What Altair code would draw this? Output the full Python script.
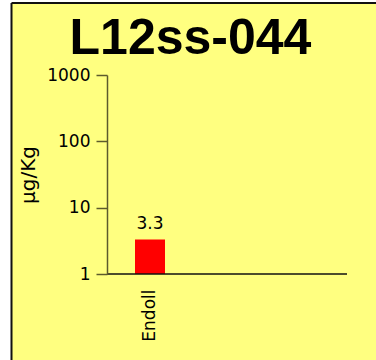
import altair as alt
import pandas as pd

# Sample result
categories = ["Endoll"]
values = [3.3]
labels = ["3.3"]

sample_id = "L12ss-044"
unit_label = "μg/Kg"
y_ticks = [1, 10, 100, 1000]

df = pd.DataFrame({"analyte": categories, "value": values, "label": labels})

PANEL = "#FFFF80"
FONT = "DejaVu Sans"

x_scale = alt.Scale(range=[28, 58], paddingInner=0, paddingOuter=0)

x_enc = alt.X(
    "analyte:N",
    scale=x_scale,
    axis=alt.Axis(
        title=None,
        labelAngle=270,
        labelFont=FONT,
        labelFontSize=17,
        labelColor="#000000",
        labelPadding=15,
        ticks=False,
        domain=False,
        zindex=1,
    ),
)
y_enc = alt.Y(
    "value:Q",
    scale=alt.Scale(type="log", domain=[1, 1000]),
    axis=alt.Axis(
        title=unit_label,
        values=y_ticks,
        format="d",
        grid=False,
        labelFont=FONT,
        labelFontSize=17,
        labelColor="#000000",
        labelPadding=6,
        tickSize=11,
        tickColor="#5c5a2c",
        tickWidth=1.5,
        domainColor="#5c5a2c",
        domainWidth=1.5,
        titleFont=FONT,
        titleFontSize=20,
        titleFontWeight="normal",
        titleColor="#000000",
        titlePadding=8,
        zindex=1,
    ),
)

bars = alt.Chart(df).mark_bar(color="#FF0000").encode(
    x=x_enc, y=y_enc, y2=alt.datum(1)
)

value_text = alt.Chart(df).mark_text(
    font=FONT, fontSize=17, color="#000000", baseline="alphabetic", dy=-11
).encode(x=alt.X("analyte:N", scale=x_scale), y="value:Q", text="label:N")

edge_df = pd.DataFrame({"k": [0]})

# Baseline of the value axis across the full plot width
baseline = alt.Chart(edge_df).mark_rule(color="#111111", strokeWidth=1.5).encode(
    y=alt.datum(1), x=alt.value(0), x2=alt.value(240)
)

# White margin outside the panel and the panel's black frame
margin_left = alt.Chart(edge_df).mark_rect(color="white").encode(
    x=alt.value(-107), x2=alt.value(-95.5), y=alt.value(-75), y2=alt.value(285)
)
margin_top = alt.Chart(edge_df).mark_rect(color="white").encode(
    x=alt.value(-107), x2=alt.value(269), y=alt.value(-75), y2=alt.value(-72)
)
frame_left = alt.Chart(edge_df).mark_rule(color="#111111", strokeWidth=2).encode(
    x=alt.value(-95.5), y=alt.value(-72), y2=alt.value(285)
)
frame_top = alt.Chart(edge_df).mark_rule(color="#111111", strokeWidth=2).encode(
    y=alt.value(-72), x=alt.value(-95.5), x2=alt.value(269)
)

# Sample ID heading across the panel
heading = alt.Chart(pd.DataFrame({"name": [sample_id]})).mark_text(
    font="Liberation Sans",
    fontSize=50,
    fontWeight="bold",
    color="#000000",
    align="center",
    baseline="alphabetic",
).encode(x=alt.value(83.5), y=alt.value(-21), text="name:N")

chart = (
    alt.layer(
        margin_left, margin_top, frame_left, frame_top,
        bars, baseline, value_text, heading,
    )
    .properties(
        width=240,
        height=199,
        background=PANEL,
        padding={"left": 107, "top": 75, "right": 29, "bottom": 86},
        autosize=alt.AutoSizeParams(type="none"),
    )
    .configure_view(stroke=None)
)

chart.save("out.html", embed_options={"renderer": "svg", "actions": False})
